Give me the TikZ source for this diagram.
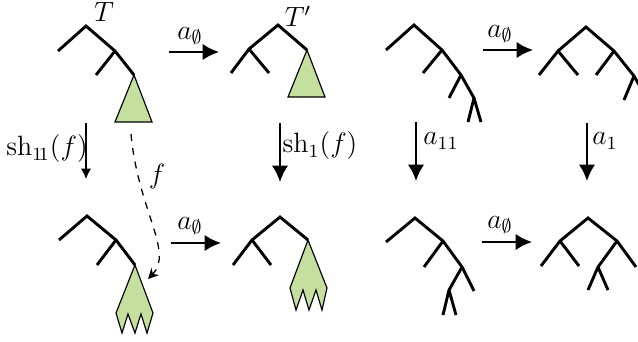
\documentclass[tikz,border=0pt]{standalone}
\usepackage{amssymb}
\usetikzlibrary{arrows.meta}
\definecolor{leafgreen}{RGB}{196,223,158}
\begin{document}
\begin{tikzpicture}[x=0.43pt,y=-0.43pt,
  every node/.style={font=\fontsize{11.5}{14}\selectfont},
  tree/.style={line width=1.25pt},
  blob/.style={fill=leafgreen,draw=black,line width=0.5pt,line join=miter},
  bigarrow/.style={line width=0.95pt,-{Latex[length=7pt,width=7pt]}},
  thinarrow/.style={line width=0.5pt,-{Latex[length=4.5pt,width=4.5pt]}},
  dasharrow/.style={line width=0.55pt,dashed,-{Stealth[length=4.5pt,width=4.5pt]}}]
\useasboundingbox (0,0) rectangle (638,341);
\clip (0,0) rectangle (638,341);

% ---- Tree T (top left)
\draw[blob] (134,75) -- (152,122) -- (115,122) -- cycle;
\draw[tree] (58,51) -- (86,26) -- (115,51) -- (134,75);
\draw[tree] (115,51) -- (96,75);
\node[inner sep=0pt] (T) at (104,12) {$T$};

% ---- Tree (bottom left)
\draw[blob] (135,265) -- (153,313) -- (147,333) -- (141,314) -- (135,333) -- (128,314) -- (122,333) -- (116,313) -- cycle;
\draw[tree] (59,240) -- (87,216) -- (116,240) -- (135,265);
\draw[tree] (116,240) -- (97,265);

% ---- Tree T' (top, second)
\draw[blob] (307,50) -- (325,97) -- (288,97) -- cycle;
\draw[tree] (231,73) -- (249,49) -- (278,25) -- (307,50);
\draw[tree] (249,49) -- (269,73);
\node[inner sep=0pt] (Tp) at (298,16) {$T'$};

% ---- Tree (bottom, second)
\draw[blob] (308,240) -- (327,288) -- (322,310) -- (316,290) -- (309,310) -- (303,290) -- (296,310) -- (290,288) -- cycle;
\draw[tree] (233,265) -- (252,240) -- (280,217) -- (308,240);
\draw[tree] (252,240) -- (271,265);

% ---- Tree (top, third)
\draw[tree] (386,50) -- (414,25) -- (442,50) -- (461,75) -- (474,98) -- (481,122);
\draw[tree] (442,50) -- (423,73);
\draw[tree] (461,75) -- (449,98);
\draw[tree] (474,98) -- (468,122);

% ---- Tree (top, fourth)
\draw[tree] (539,75) -- (558,51) -- (586,27) -- (614,51) -- (634,76) -- (647,99);
\draw[tree] (558,51) -- (578,75);
\draw[tree] (614,51) -- (596,75);
\draw[tree] (634,76) -- (624,100);

% ---- Tree (bottom, third)
\draw[tree] (386,242) -- (415,218) -- (443,241) -- (462,267) -- (474,291);
\draw[tree] (443,241) -- (424,267);
\draw[tree] (443,315) -- (449,290) -- (462,267);
\draw[tree] (449,290) -- (456,315);

% ---- Tree (bottom, fourth)
\draw[tree] (541,266) -- (560,241) -- (588,218) -- (617,241) -- (636,267);
\draw[tree] (560,241) -- (579,266);
\draw[tree] (617,241) -- (598,267) -- (588,290);
\draw[tree] (598,267) -- (608,290);

% ---- horizontal arrows
\coordinate (h1s) at (169,52); \coordinate (h1e) at (219,52);
\coordinate (h2s) at (171,243); \coordinate (h2e) at (221,243);
\coordinate (h3s) at (483,50); \coordinate (h3e) at (533,50);
\coordinate (h4s) at (482,242); \coordinate (h4e) at (532,242);
\draw[bigarrow] (h1s) -- (h1e);
\draw[bigarrow] (h2s) -- (h2e);
\draw[bigarrow] (h3s) -- (h3e);
\draw[bigarrow] (h4s) -- (h4e);
\node (l1) at (190,36) {$a_{\emptyset}$};
\node (l2) at (190,226) {$a_{\emptyset}$};
\node (l3) at (500,34) {$a_{\emptyset}$};
\node (l4) at (500,225) {$a_{\emptyset}$};

% ---- vertical arrows
\coordinate (v1s) at (86,123); \coordinate (v1e) at (86,179);
\coordinate (v2s) at (280,123); \coordinate (v2e) at (280,182);
\coordinate (v3s) at (416,122); \coordinate (v3e) at (416,181);
\coordinate (v4s) at (587,123); \coordinate (v4e) at (587,181);
\draw[thinarrow] (v1s) -- (v1e);
\draw[bigarrow] (v2s) -- (v2e);
\draw[bigarrow] (v3s) -- (v3e);
\draw[bigarrow] (v4s) -- (v4e);
\node (lv1) at (47,149) {$\mathrm{sh}_{1\!1}(f)$};
\node (lv2) at (320,146) {$\mathrm{sh}_{1}(f)$};
\node (lv3) at (441,141) {$a_{11}$};
\node (lv4) at (605,141) {$a_{1}$};

% ---- dashed f
\coordinate (fs) at (131,134); \coordinate (fe) at (148,279);
\draw[dasharrow] (fs) .. controls (138,210) and (174,252) .. (fe);
\node (lf) at (157,177) {$f$};
\end{tikzpicture}
\end{document}
